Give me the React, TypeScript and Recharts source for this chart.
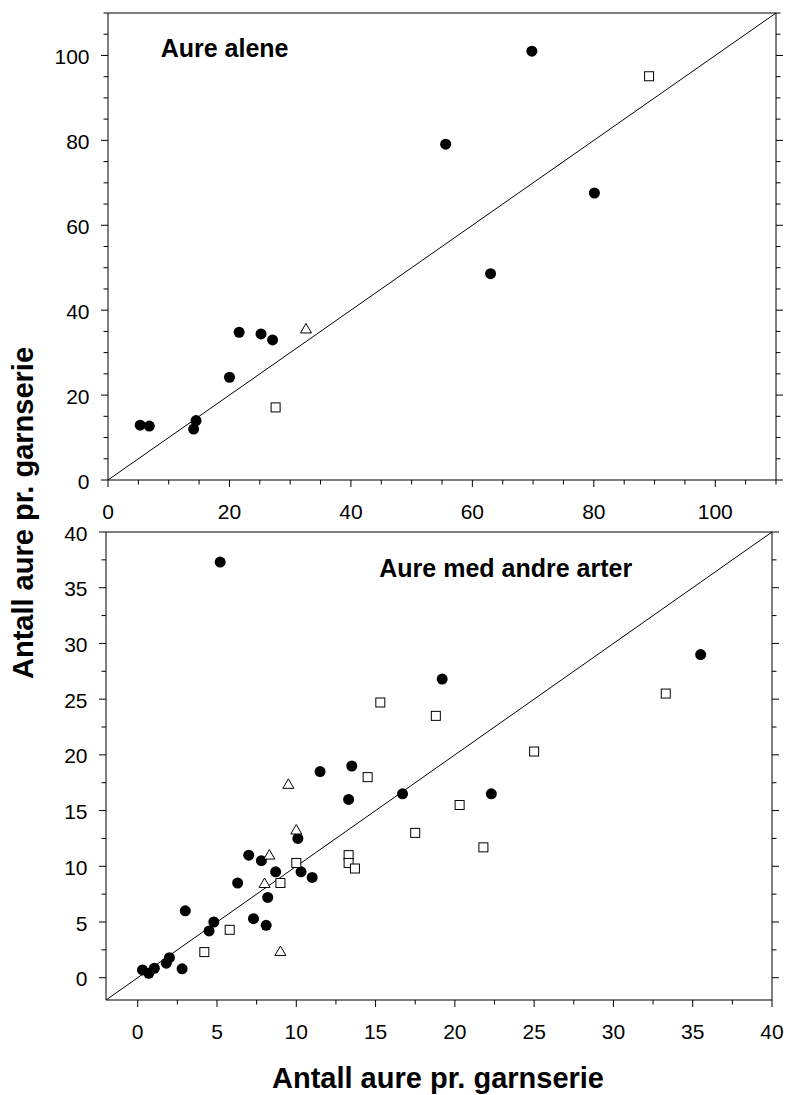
import React from 'react'
import { ScatterChart, Scatter, XAxis, YAxis, ReferenceLine } from 'recharts'

// top panel: "Aure alene"
const topTicks = [0, 5, 10, 15, 20, 25, 30, 35, 40, 45, 50, 55, 60, 65, 70, 75, 80, 85, 90, 95, 100, 105, 110]
const topLabels = [0, 20, 40, 60, 80, 100]
const topFilledX = [5.3, 6.8, 14.1, 14.5, 20.0, 21.6, 25.2, 27.1, 55.6, 63.0, 69.8, 80.1]
const topFilledY = [12.9, 12.7, 12.0, 14.0, 24.2, 34.8, 34.4, 33.0, 79.1, 48.6, 101.0, 67.6]
const topSquareX = [27.6, 89.1]
const topSquareY = [17.1, 95.1]
const topTriangleX = [32.6]
const topTriangleY = [35.7]

// bottom panel: "Aure med andre arter"
const bottomTicks = [0, 2.5, 5, 7.5, 10, 12.5, 15, 17.5, 20, 22.5, 25, 27.5, 30, 32.5, 35, 37.5, 40]
const bottomLabels = [0, 5, 10, 15, 20, 25, 30, 35, 40]
const bottomFilledX = [0.3, 0.7, 1.05, 1.8, 2.0, 2.8, 3.0, 4.5, 4.8, 6.3, 7.0, 7.3, 7.8, 8.1, 8.2, 8.7, 10.1, 10.3, 11.0, 11.5, 13.3, 13.5, 16.7, 22.3, 19.2, 5.2, 35.5]
const bottomFilledY = [0.7, 0.4, 0.85, 1.3, 1.8, 0.8, 6.0, 4.2, 5.0, 8.5, 11.0, 5.3, 10.5, 4.7, 7.2, 9.5, 12.5, 9.5, 9.0, 18.5, 16.0, 19.0, 16.5, 16.5, 26.8, 37.3, 29.0]
const bottomSquareX = [4.2, 5.8, 9.0, 10.0, 13.3, 13.3, 13.7, 14.5, 15.3, 17.5, 18.8, 20.3, 21.8, 25.0, 33.3]
const bottomSquareY = [2.3, 4.3, 8.5, 10.3, 11.0, 10.3, 9.8, 18.0, 24.7, 13.0, 23.5, 15.5, 11.7, 20.3, 25.5]
const bottomTriangleX = [9.5, 10.0, 8.3, 8.0, 9.0]
const bottomTriangleY = [17.4, 13.3, 11.05, 8.5, 2.4]

const FONT = '"Liberation Sans", Arial, Helvetica, sans-serif'

const toPoints = (xs: number[], ys: number[]) => xs.map((x, i) => ({ x, y: ys[i] }))

const Dot = (p: any) => <circle cx={p.cx} cy={p.cy} r={5.5} fill="#000" />
const Square = (p: any) => (
  <rect x={p.cx - 4.5} y={p.cy - 4.5} width={9} height={9} fill="#fff" stroke="#000" strokeWidth={1} />
)
const Triangle = (p: any) => (
  <polygon
    points={`${p.cx},${p.cy - 5} ${p.cx - 5.5},${p.cy + 4.5} ${p.cx + 5.5},${p.cy + 4.5}`}
    fill="#fff"
    stroke="#000"
    strokeWidth={1}
  />
)

const makeBottomTick = (labels: number[]) => (p: any) => {
  const v = p.payload.value
  const major = labels.includes(v)
  return (
    <g>
      <line x1={p.x} x2={p.x} y1={p.y} y2={p.y + (major ? 7 : 4.5)} stroke="#000" />
      {major && (
        <text x={p.x} y={p.y + 38.5} textAnchor="middle" fontSize={21} fontFamily={FONT} fill="#000">
          {v}
        </text>
      )}
    </g>
  )
}

const makeLeftTick = (labels: number[]) => (p: any) => {
  const v = p.payload.value
  const major = labels.includes(v)
  return (
    <g>
      <line x1={p.x - (major ? 7 : 4.5)} x2={p.x} y1={p.y} y2={p.y} stroke="#000" />
      {major && (
        <text x={p.x - 18.5} y={p.y + 8.5} textAnchor="end" fontSize={21} fontFamily={FONT} fill="#000">
          {v}
        </text>
      )}
    </g>
  )
}

const makeRightTick = (labels: number[]) => (p: any) => {
  const major = labels.includes(p.payload.value)
  return <line x1={p.x} x2={p.x + (major ? 7 : 4.5)} y1={p.y} y2={p.y} stroke="#000" />
}

type PanelProps = {
  top: number
  margin: { top: number; right: number; bottom: number; left: number }
  leftWidth: number
  domain: [number, number]
  ticks: number[]
  labels: number[]
  filled: { x: number; y: number }[]
  squares: { x: number; y: number }[]
  triangles: { x: number; y: number }[]
}

function Panel({ top, margin, leftWidth, domain, ticks, labels, filled, squares, triangles }: PanelProps) {
  const [lo, hi] = domain
  return (
    <div style={{ position: 'absolute', left: 0, top }}>
      <ScatterChart width={787} height={540} margin={margin}>
        <XAxis
          type="number"
          dataKey="x"
          domain={domain}
          ticks={ticks}
          interval={0}
          allowDataOverflow
          height={60}
          tickLine={false}
          tickSize={0}
          tickMargin={0}
          axisLine={{ stroke: '#000' }}
          tick={makeBottomTick(labels)}
        />
        <YAxis
          yAxisId="left"
          type="number"
          dataKey="y"
          domain={domain}
          ticks={ticks}
          interval={0}
          allowDataOverflow
          width={leftWidth}
          tickLine={false}
          tickSize={0}
          tickMargin={0}
          axisLine={{ stroke: '#000' }}
          tick={makeLeftTick(labels)}
        />
        <YAxis
          yAxisId="right"
          orientation="right"
          type="number"
          domain={domain}
          ticks={ticks}
          interval={0}
          allowDataOverflow
          width={10}
          tickLine={false}
          tickSize={0}
          tickMargin={0}
          axisLine={{ stroke: '#000' }}
          tick={makeRightTick(labels)}
        />
        <ReferenceLine yAxisId="left" y={hi} stroke="#000" />
        <ReferenceLine
          yAxisId="left"
          segment={[
            { x: lo, y: lo },
            { x: hi, y: hi },
          ]}
          stroke="#000"
        />
        <Scatter yAxisId="left" data={filled} shape={Dot} isAnimationActive={false} />
        <Scatter yAxisId="left" data={squares} shape={Square} isAnimationActive={false} />
        <Scatter yAxisId="left" data={triangles} shape={Triangle} isAnimationActive={false} />
      </ScatterChart>
    </div>
  )
}

export default function App() {
  return (
    <div style={{ position: 'absolute', left: 0, top: 0, width: 787, height: 1095, background: '#fff' }}>
      <Panel
        top={0}
        margin={{ top: 13, right: 1, bottom: 0, left: 0 }}
        leftWidth={108}
        domain={[0, 110]}
        ticks={topTicks}
        labels={topLabels}
        filled={toPoints(topFilledX, topFilledY)}
        squares={toPoints(topSquareX, topSquareY)}
        triangles={toPoints(topTriangleX, topTriangleY)}
      />
      <Panel
        top={520}
        margin={{ top: 12, right: 5, bottom: 0, left: 0 }}
        leftWidth={106}
        domain={[-2, 40]}
        ticks={bottomTicks}
        labels={bottomLabels}
        filled={toPoints(bottomFilledX, bottomFilledY)}
        squares={toPoints(bottomSquareX, bottomSquareY)}
        triangles={toPoints(bottomTriangleX, bottomTriangleY)}
      />
      <svg
        width={787}
        height={1095}
        style={{ position: 'absolute', left: 0, top: 0, pointerEvents: 'none' }}
        fontFamily={FONT}
        fontWeight="bold"
        fill="#000"
      >
        <text x={160.7} y={56.7} fontSize={25}>Aure alene</text>
        <text x={379.3} y={576.7} fontSize={25}>Aure med andre arter</text>
        <text x={33.3} y={513} fontSize={29} textAnchor="middle" transform="rotate(-90 33.3 513)">
          Antall aure pr. garnserie
        </text>
        <text x={438} y={1088} fontSize={29} textAnchor="middle">
          Antall aure pr. garnserie
        </text>
      </svg>
    </div>
  )
}
